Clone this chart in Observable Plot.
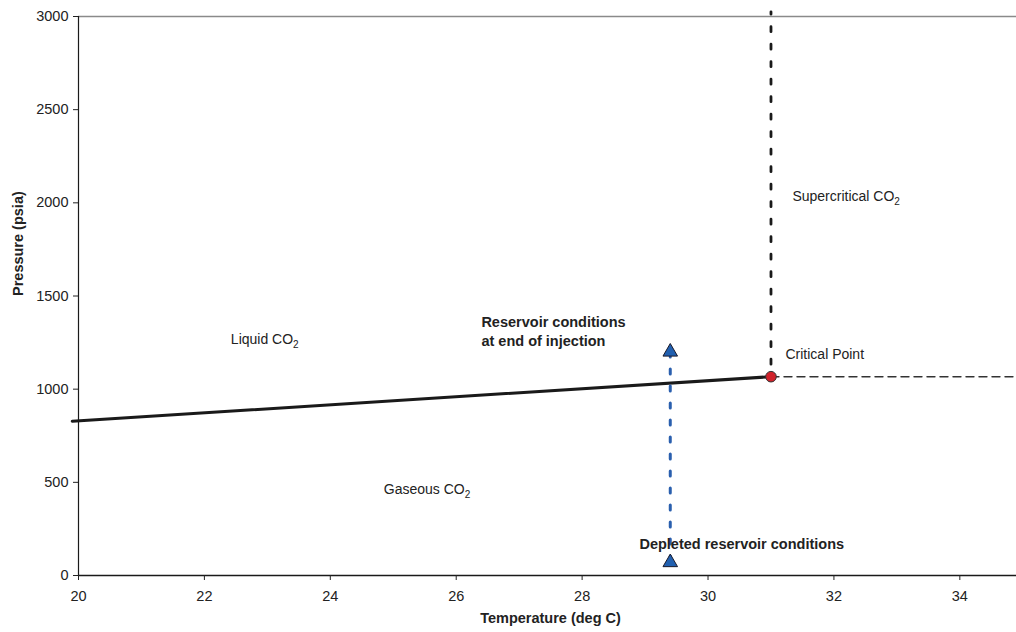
<!DOCTYPE html>
<html><head><meta charset="utf-8">
<script src="https://cdn.jsdelivr.net/npm/d3@7"></script>
<script src="https://cdn.jsdelivr.net/npm/@observablehq/plot@0.6"></script>
<style>
html,body{margin:0;padding:0;background:#fff;}
#chart svg{font-family:"Liberation Sans",Arial,Helvetica,sans-serif;background:#fff;}
</style></head><body><div id="chart"></div>
<script>
// tick values
const xTicks = [20, 22, 24, 26, 28, 30, 32, 34];
const yTicks = [0, 500, 1000, 1500, 2000, 2500, 3000];
// liquid / gas phase boundary
const phaseTemp = [19.9, 31.0];
const phasePressure = [828, 1067];
// critical point
const criticalTemp = [31.0];
const criticalPressure = [1067];
// supercritical boundaries
const supercriticalTemp = [31.0, 31.0];
const supercriticalPressure = [1067, 3025];
const criticalIsobarTemp = [31.0, 34.9];
const criticalIsobarPressure = [1067, 1067];
// reservoir conditions (end of injection, depleted)
const reservoirTemp = [29.4, 29.4];
const reservoirPressure = [1200, 70];
// region labels
const phaseLabels = ["Liquid CO2", "Gaseous CO2", "Supercritical CO2", "Critical Point"];
const phaseLabelTemp = [22.42, 24.85, 31.34, 31.23];
const phaseLabelPressure = [1266, 461, 2034, 1186];
const reservoirLabels = ["Reservoir conditions\nat end of injection", "Depleted reservoir conditions"];
const reservoirLabelTemp = [26.40, 28.91];
const reservoirLabelPressure = [1317, 172];

const idx2 = [0, 1];
const chart = Plot.plot({
  width: 1016,
  height: 632,
  marginLeft: 78,
  marginRight: 0,
  marginTop: 16,
  marginBottom: 57,
  style: {fontFamily: '"Liberation Sans", Arial, sans-serif', background: "#fff"},
  x: {domain: [20, 34.9], axis: null},
  y: {domain: [0, 3000], axis: null},
  marks: [
    Plot.ruleY([3000], {stroke: "#8a8a8a", strokeWidth: 1.5}),
    Plot.ruleY([0], {stroke: "#1a1a1a", strokeWidth: 1.5}),
    Plot.ruleX([20], {stroke: "#1a1a1a", strokeWidth: 1.2}),
    Plot.axisX(xTicks, {tickSize: 5, tickPadding: 10, fontSize: 14.5, color: "#222", label: null, tickFormat: d3.format("d")}),
    Plot.axisY(yTicks, {tickSize: 5, tickPadding: 5, fontSize: 14.5, color: "#222", label: null, tickFormat: d3.format("d")}),
    Plot.text(["Temperature (deg C)"], {frameAnchor: "bottom", dx: 3, dy: 47, fontSize: 14.5, fontWeight: "bold", fill: "#222"}),
    Plot.text(["Pressure (psia)"], {frameAnchor: "left", dx: -60, rotate: -90, fontSize: 14.5, fontWeight: "bold", fill: "#222"}),
    // phase boundary
    Plot.line(idx2, {x: i => phaseTemp[i], y: i => phasePressure[i], stroke: "#1a1a1a", strokeWidth: 3}),
    // supercritical vertical
    Plot.line(idx2, {x: i => supercriticalTemp[i], y: i => supercriticalPressure[i], stroke: "#1a1a1a", strokeWidth: 2.8, strokeDasharray: "5,12.5", strokeDashoffset: 5}),
    Plot.line(idx2, {x: i => criticalIsobarTemp[i], y: i => criticalIsobarPressure[i], stroke: "#333", strokeWidth: 1.4, strokeDasharray: "8,5", clip: false}),
    // reservoir path
    Plot.line(idx2, {x: i => reservoirTemp[i], y: i => reservoirPressure[i], stroke: "#2a5fae", strokeWidth: 3, strokeDasharray: "5,12"}),
    Plot.dot(idx2, {x: i => reservoirTemp[i], y: i => reservoirPressure[i], symbol: "triangle", r: 5.4, fill: "#2160b0", stroke: "#1a1a2a", strokeWidth: 1}),
    Plot.dot(criticalTemp, {x: d => d, y: (d, i) => criticalPressure[i], r: 5.3, fill: "#d0222b", stroke: "#333", strokeWidth: 1}),
    // labels
    Plot.text(phaseLabels, {x: (d, i) => phaseLabelTemp[i], y: (d, i) => phaseLabelPressure[i], text: d => d, textAnchor: "start", fontSize: 14, fill: "#222"}),
    Plot.text(reservoirLabels, {x: (d, i) => reservoirLabelTemp[i], y: (d, i) => reservoirLabelPressure[i], text: d => d, textAnchor: "start", fontSize: 14.5, fontWeight: "bold", lineHeight: 1.3, fill: "#222"})
  ]
});
document.getElementById("chart").appendChild(chart);

// render the "2" of CO2 as a subscript
chart.querySelectorAll("text").forEach(t => {
  if (t.children.length === 0 && /CO2$/.test(t.textContent)) {
    const s = t.textContent;
    t.textContent = s.slice(0, -1);
    const sub = document.createElementNS("http://www.w3.org/2000/svg", "tspan");
    sub.setAttribute("dy", "4");
    sub.setAttribute("font-size", "10");
    sub.textContent = "2";
    t.appendChild(sub);
  }
});
</script></body></html>
